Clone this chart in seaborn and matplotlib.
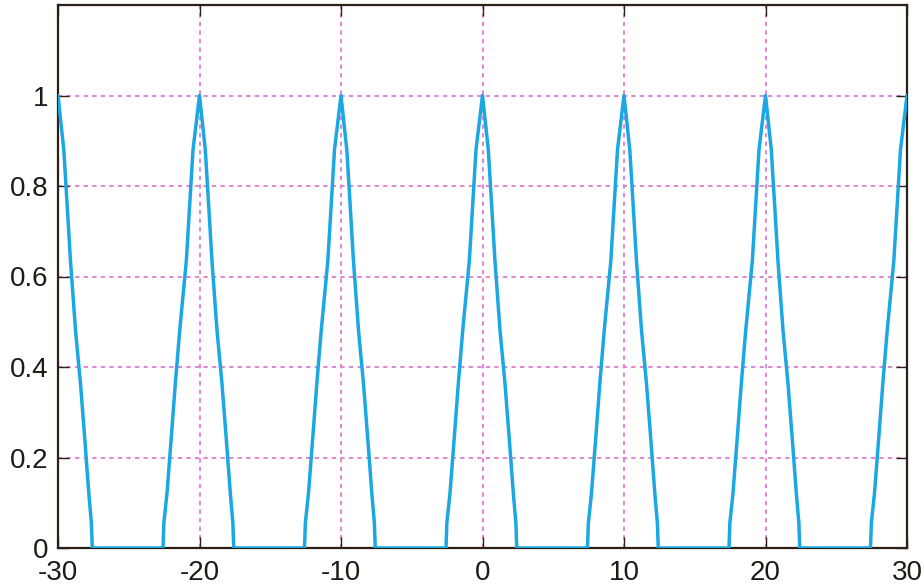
import numpy as np
import pandas as pd
import seaborn as sns
import matplotlib
matplotlib.use("Agg")
import matplotlib.pyplot as plt
from matplotlib.ticker import FixedLocator, FixedFormatter

# Pulse centres and the shape of one pulse (offsets from centre, heights)
centers = [-30, -20, -10, 0, 10, 20, 30]
pulse_dx = [-2.58, -2.52, -2.30, -2.01, -1.71, -1.40, -0.93, -0.69, -0.46, 0.0,
            0.41, 0.65, 0.88, 1.24, 1.59, 1.90, 2.18, 2.36, 2.42]
pulse_y = [0.0, 0.055, 0.12, 0.238, 0.363, 0.48, 0.635, 0.76, 0.88, 1.0,
           0.88, 0.756, 0.635, 0.48, 0.363, 0.238, 0.12, 0.055, 0.0]

x_ticks = [-30, -20, -10, 0, 10, 20, 30]
x_labels = ["-30", "-20", "-10", "0", "10", "20", "30"]
y_ticks = [0, 0.2, 0.4, 0.6, 0.8, 1.0]
y_labels = ["0", "0.2", "0.4", "0.6", "0.8", "1"]

xs, ys = [], []
for c in centers:
    for dx, yv in zip(pulse_dx, pulse_y):
        xv = c + dx
        if -30 <= xv <= 30:
            xs.append(xv)
            ys.append(yv)
df = pd.DataFrame({"x": xs, "y": ys})

sns.set_theme(style="white")
plt.rcParams["font.family"] = ["Liberation Sans", "DejaVu Sans"]

fig = plt.figure(figsize=(9.24, 5.86), dpi=100)
ax = fig.add_axes([58 / 924, 38 / 586, (907 - 58) / 924, (548 - 5) / 586])

sns.lineplot(data=df, x="x", y="y", ax=ax, estimator=None, sort=False,
             color="#1ba8e2", linewidth=2.5, zorder=3)

ax.set_xlim(-30, 30)
ax.set_ylim(0, 1.2)
ax.xaxis.set_major_locator(FixedLocator(x_ticks))
ax.xaxis.set_major_formatter(FixedFormatter(x_labels))
ax.yaxis.set_major_locator(FixedLocator(y_ticks))
ax.yaxis.set_major_formatter(FixedFormatter(y_labels))
ax.set_xlabel("")
ax.set_ylabel("")

ax.grid(True, color="#e085d4", linestyle=(0, (2.2, 2.2)), linewidth=1.4)
ax.set_axisbelow(True)

spine_col = "#2b2016"
for s in ax.spines.values():
    s.set_color(spine_col)
    s.set_linewidth(1.6)
    s.set_visible(True)

ax.tick_params(axis="both", direction="in", length=8, width=1.0, color=spine_col,
               labelsize=20, labelcolor="#1e1a14", top=True, right=True,
               left=True, bottom=True)
ax.tick_params(axis="y", pad=7)
ax.tick_params(axis="x", pad=8.5)

fig.savefig("out.png", dpi=100)
